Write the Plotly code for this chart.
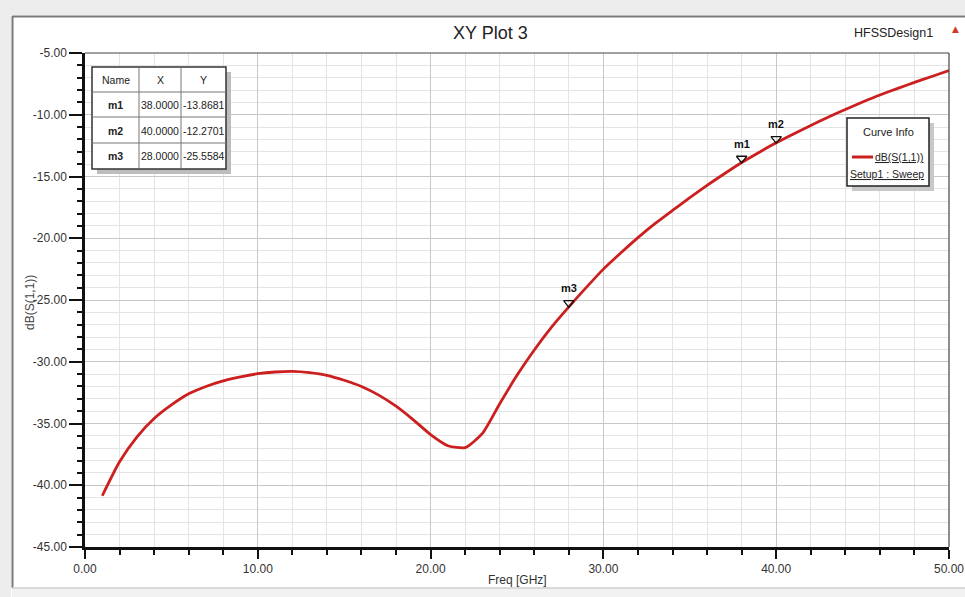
import plotly.graph_objects as go

# ---- data ----
freq_ghz = [1, 2, 3, 4, 5, 6, 7, 8, 9, 10, 11, 12, 13, 14, 15, 16, 17, 18, 19, 20,
            21, 22, 23, 24, 25, 26, 27, 28, 29, 30, 31, 32, 33, 34, 35, 36, 37, 38,
            39, 40, 41, 42, 43, 44, 45, 46, 47, 48, 49, 50]
s11_db = [-40.85, -38.1, -36.1, -34.6, -33.5, -32.6, -32.0, -31.55, -31.22, -30.97,
          -30.83, -30.78, -30.88, -31.1, -31.5, -32.0, -32.7, -33.6, -34.7, -35.9,
          -36.8, -36.95, -35.8, -33.4, -31.1, -29.05, -27.2, -25.56, -24.0, -22.5,
          -21.2, -19.95, -18.8, -17.75, -16.72, -15.72, -14.78, -13.87, -13.05, -12.27,
          -11.55, -10.87, -10.2, -9.57, -8.97, -8.4, -7.88, -7.38, -6.9, -6.42]

marker_names = ["m1", "m2", "m3"]
marker_x = [38.0, 40.0, 28.0]
marker_y = [-13.8681, -12.2701, -25.5584]

x_ticks = [0, 10, 20, 30, 40, 50]
y_ticks = [-5, -10, -15, -20, -25, -30, -35, -40, -45]

# ---- layout helpers (pixel -> paper) ----
W, H = 965, 597
L, R, T, B = 85, 949, 53, 547
def px(x):
    return (x - L) / (R - L)
def py(y):
    return (B - y) / (B - T)

NARROW = "Liberation Sans Narrow, Arial Narrow, Liberation Sans, sans-serif"
red = "#cc1f1f"

fig = go.Figure()
fig.add_trace(go.Scatter(
    x=freq_ghz, y=s11_db, mode="lines",
    line=dict(color=red, width=2.8, shape="spline", smoothing=0.6),
    hoverinfo="skip", showlegend=False))

fig.add_trace(go.Scatter(
    x=marker_x, y=marker_y, mode="markers",
    marker=dict(symbol="triangle-up-open", angle=180, size=9, color="#111",
                line=dict(width=1.3), standoff=4),
    showlegend=False, hoverinfo="skip"))

shapes = []
ann = []

for n, mx, my in zip(marker_names, marker_x, marker_y):
    ann.append(dict(x=mx, y=my, xref="x", yref="y", text="<b>%s</b>" % n, showarrow=False,
                    xanchor="center", yanchor="bottom", yshift=11,
                    font=dict(family=NARROW, size=11, color="#111")))

def text(x, y, s, size=11, xanchor="center", angle=0, color="#222", family=NARROW):
    ann.append(dict(x=px(x), y=py(y), xref="paper", yref="paper", text=s, showarrow=False,
                    xanchor=xanchor, yanchor="middle", textangle=angle,
                    font=dict(family=family, size=size, color=color)))

def rect(x0, y0, x1, y1, fill, line_color=None, lw=0):
    shapes.append(dict(type="rect", xref="paper", yref="paper", x0=px(x0), x1=px(x1),
                       y0=py(y0), y1=py(y1), fillcolor=fill,
                       line=dict(color=line_color or fill, width=lw)))

def line(x0, y0, x1, y1, color, w):
    shapes.append(dict(type="line", xref="paper", yref="paper", x0=px(x0), x1=px(x1),
                       y0=py(y0), y1=py(y1), line=dict(color=color, width=w)))

# window frame
rect(0, 0, W, 15, "#ededed")
rect(0, 0, 11, H, "#ededed")
line(12, 16.5, W, 16.5, "#7a7a7a", 2)
line(12.5, 16, 12.5, 588, "#7a7a7a", 2)
rect(12, 588, W, H, "#f2f2f2")
line(12, 588, W, 588, "#cfcfcf", 1.5)

# plot frame top/right
line(L, T, R, T, "#444", 1.2)
line(R, T, R, B, "#444", 1.2)

# marker table
tx0, tx1, ty0, ty1 = 92, 226, 67, 169
rect(tx0 + 5, ty0 + 5, tx1 + 5, ty1 + 5, "#bdbdbd")
rect(tx0, ty0, tx1, ty1, "white", "#333", 1.5)
for cx in [139, 181]:
    line(cx, ty0, cx, ty1, "#777", 1)
for ry in [92, 117, 143]:
    line(tx0, ry, tx1, ry, "#777", 1)
col_c = [115.5, 160, 203.5]
row_c = [80, 105, 130.5, 156]
for c, h in zip(col_c, ["Name", "X", "Y"]):
    text(c, row_c[0], h, size=10.5)
for i, (n, mx, my) in enumerate(zip(marker_names, marker_x, marker_y)):
    vals = ["<b>%s</b>" % n, "%.4f" % mx, "%.4f" % my]
    for c, v in zip(col_c, vals):
        text(c, row_c[i + 1], v, size=10.5)

# curve info box
lx0, lx1, ly0, ly1 = 847, 929, 118, 186
rect(lx0 + 5, ly0 + 5, lx1 + 5, ly1 + 5, "#c8c8c8")
rect(lx0, ly0, lx1, ly1, "white", "#222", 1.5)
line(852, 157, 873, 157, red, 3)
text(888, 132, "Curve Info", size=11)
text(925, 157, "<u>dB(S(1,1))</u>", size=10.5, xanchor="right")
text(887, 174, "<u>Setup1 : Sweep</u>", size=10.5)

# titles
text(490, 33, "XY Plot 3", size=18)
text(935, 33, "HFSSDesign1", size=12.5, xanchor="right")
text(955, 29, "▲", size=9, color="#d23a2a", family="DejaVu Sans")
text(30, 302, "dB(S(1,1))", size=12, angle=-90, color="#444", family="Liberation Sans, sans-serif")
text(517, 580, "Freq [GHz]", size=12, color="#333")

fig.update_layout(
    width=W, height=H,
    margin=dict(l=L, r=W - R, t=T, b=H - B, autoexpand=False),
    paper_bgcolor="white", plot_bgcolor="white",
    shapes=shapes, annotations=ann, showlegend=False,
    xaxis=dict(range=[0, 50], tickvals=x_ticks, ticktext=["%.2f" % v for v in x_ticks],
               automargin=False,
               showline=True, linecolor="#111", linewidth=2.5, ticklabeloverflow="allow",
               ticks="outside", ticklen=9, tickwidth=1.5, tickcolor="#111",
               showgrid=True, gridcolor="#c8c8c8", gridwidth=1, zeroline=False,
               tickfont=dict(family=NARROW, size=12, color="#333"),
               minor=dict(dtick=2, showgrid=True, gridcolor="#e4e4e4", ticks="outside",
                          ticklen=5, tickcolor="#111", tickwidth=1.5)),
    yaxis=dict(range=[-45, -5], tickvals=y_ticks, ticktext=["%.2f" % v for v in y_ticks],
               automargin=False,
               showline=True, linecolor="#111", linewidth=2.5,
               ticks="outside", ticklen=13, tickwidth=1.5, tickcolor="#111",
               showgrid=True, gridcolor="#c8c8c8", gridwidth=1, zeroline=False,
               tickfont=dict(family=NARROW, size=12, color="#333"),
               minor=dict(dtick=1, showgrid=True, gridcolor="#e4e4e4", ticks="outside",
                          ticklen=5, tickcolor="#111", tickwidth=1.5)),
)

fig.write_html("out.html")
